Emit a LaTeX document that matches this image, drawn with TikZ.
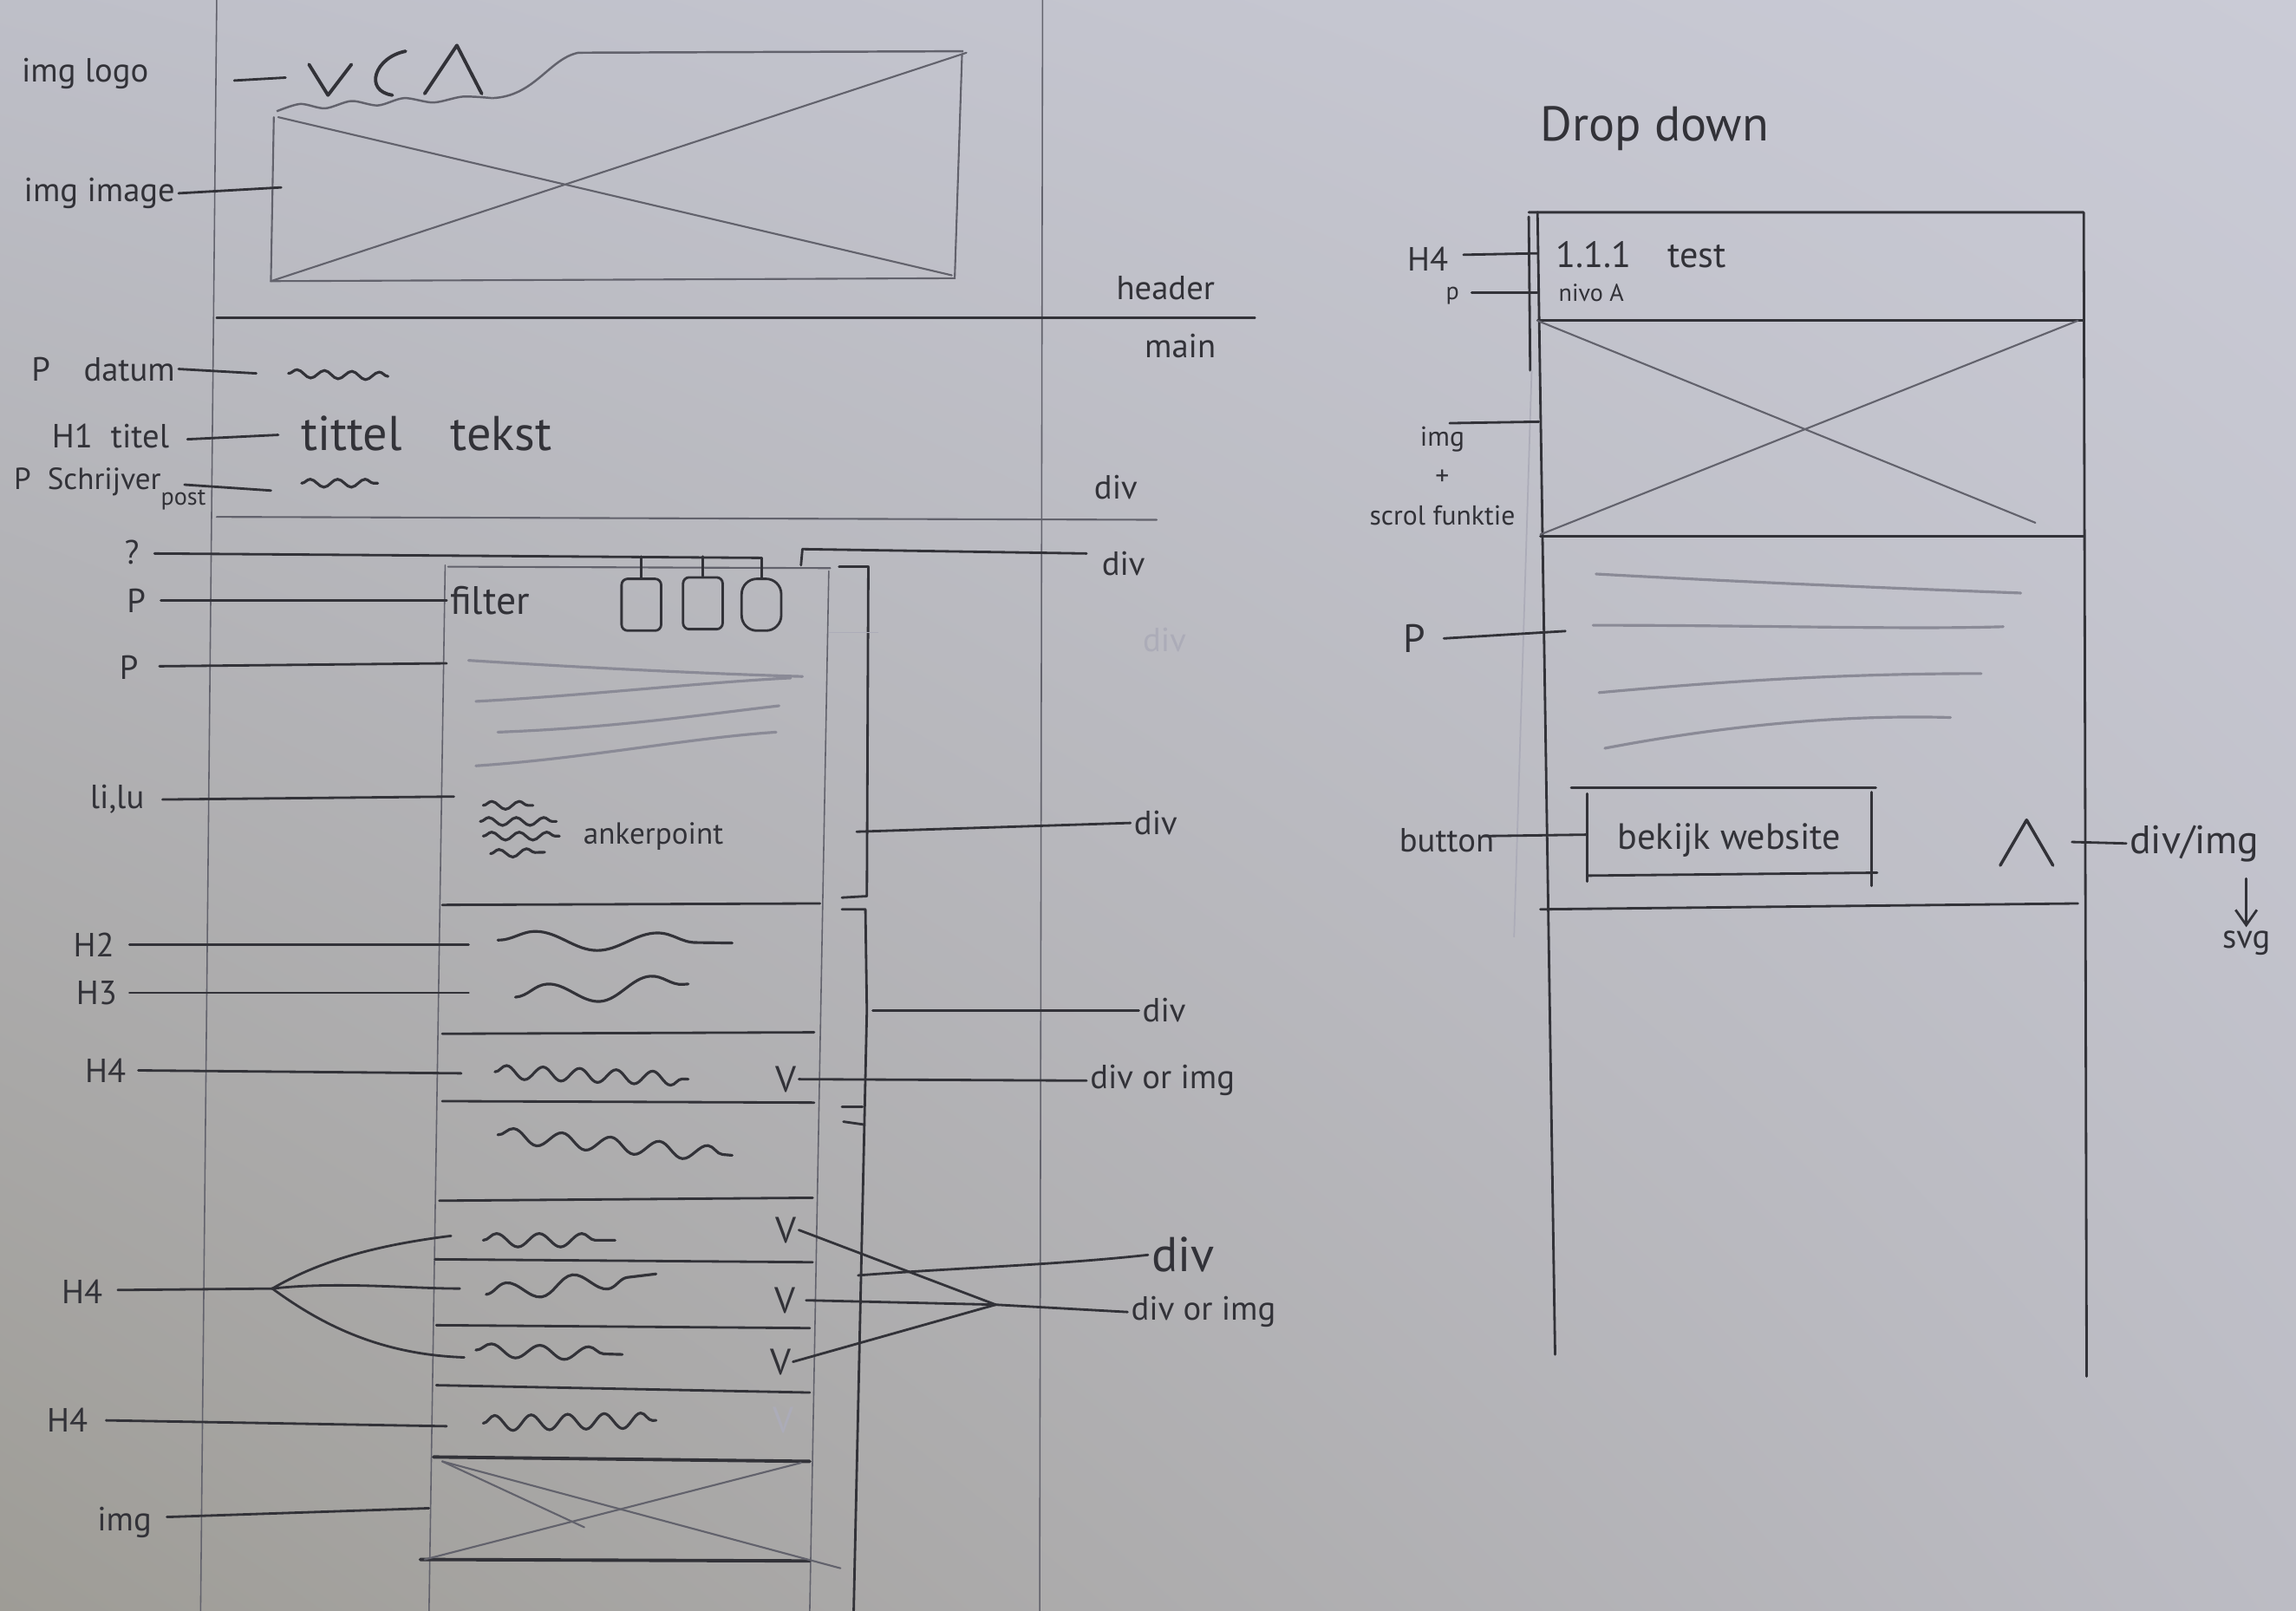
\documentclass[tikz,border=0pt]{standalone}
\usepackage{fontspec}
\setmainfont{PT Sans}
\usetikzlibrary{decorations.pathmorphing,arrows.meta,shadings}
\definecolor{paperUL}{RGB}{190,191,200}
\definecolor{paperUR}{RGB}{202,203,214}
\definecolor{paperLL}{RGB}{158,156,150}
\definecolor{paperLR}{RGB}{188,188,196}
\definecolor{pen}{RGB}{50,50,56}
\definecolor{penlight}{RGB}{98,98,108}
\definecolor{penfaint}{RGB}{138,138,150}
\definecolor{ghost}{RGB}{172,172,184}
\begin{document}
\begin{tikzpicture}[x=0.016888cm,y=-0.016888cm,
  pencil/.style={draw=pen,line width=0.8pt,line cap=round,line join=round},
  heavy/.style={draw=pen,line width=1.1pt,line cap=round,line join=round},
  thinline/.style={draw=penlight,line width=0.45pt,line cap=round},
  textline/.style={draw=penfaint,line width=0.9pt,line cap=round},
  squig/.style={draw=pen,line width=0.9pt,line cap=round,decorate,
    decoration={snake,amplitude=2.2pt,segment length=13pt}},
  smallsquig/.style={squig,decoration={snake,amplitude=1.3pt,segment length=9pt}},
  lbl/.style={text=pen,inner sep=1pt,font=\fontsize{11}{12}\selectfont},
  small/.style={lbl,font=\fontsize{8}{9}\selectfont},
  mid/.style={lbl,font=\fontsize{13}{14}\selectfont},
  big/.style={lbl,font=\fontsize{16}{18}\selectfont},
  chev/.style={lbl,font=\fontsize{12}{12}\selectfont,inner sep=0.5pt},
  filterbox/.style={draw=pen,line width=0.8pt,rounded corners=2pt,minimum width=13,minimum height=17,inner sep=0}
]
% paper
\useasboundingbox (0,0) rectangle (1568,1100);
\shade[upper left=paperUL,upper right=paperUR,lower left=paperLL,lower right=paperLR]
  (0,0) rectangle (1568,1100);

% ---------- page guides ----------
\draw[thinline] (148,0) -- (137,1100);
\draw[thinline] (712,0) -- (710,1100);
\draw[pencil] (148,217) -- (857,217);
\draw[thinline,line width=0.6pt] (148,353) -- (790,355);
\node[lbl] (header) at (796,197) {header};
\node[lbl] (main) at (806,236) {main};
\node[lbl] (divA) at (762,333) {div};

% ---------- header image and logo ----------
\draw[thinline,line width=0.6pt] (187,80) -- (185,192) -- (652,190) -- (657,37);
\draw[thinline,line width=0.6pt] (190,80) -- (650,188);
\draw[thinline,line width=0.6pt] (185,192) -- (660,36);
\draw[pencil,line width=1.1pt] (211,44) -- (224,65) -- (240,44);
\draw[pencil,line width=1.1pt] (277,35) .. controls (256,39) and (248,62) .. (268,65);
\draw[pencil,line width=1.1pt] (290,64) -- (312,31) -- (329,64);
\draw[penlight,line width=0.7pt] plot[smooth] coordinates {(189,76) (205,71) (222,74) (240,69) (258,72) (276,67) (296,70) (316,66) (336,67)};
\draw[penlight,line width=0.7pt] (336,67) .. controls (365,66) and (375,40) .. (395,36) -- (658,35);
\coordinate (logoIn) at (195,53);
\coordinate (imageIn) at (192,128);
\node[lbl,anchor=east] (imglogo) at (104,50) {img logo};
\node[lbl,anchor=east] (imgimage) at (122,132) {img image};
\draw[pencil] (imglogo.east) ++(56,5) coordinate (l1) (l1) -- (logoIn);
\draw[pencil] (imgimage.east) -- (imageIn);

% ---------- title block ----------
\node[lbl,anchor=east] (pdatum) at (122,252) {P\quad datum};
\node[lbl,anchor=east] (h1) at (118,298) {H1\; titel};
\node[lbl,font=\fontsize{10}{11}\selectfont,anchor=east] (pauthor) at (143,334) {P\; Schrijver\raisebox{-5pt}{\fontsize{8}{9}\selectfont post}};
\coordinate (datumIn) at (175,255);
\coordinate (h1In) at (190,297);
\coordinate (authorIn) at (185,335);
\draw[pencil] (pdatum.east) -- (datumIn);
\draw[pencil] (h1.east) ++(10,2) coordinate (h1s) (h1s) -- (h1In);
\draw[pencil] (pauthor.east) ++(-17,-3) coordinate (aus) (aus) -- (authorIn);
\draw[smallsquig] (197,255) -- (265,257);
\node[big,anchor=west] (titletext) at (203,296) {tittel\quad tekst};
\draw[smallsquig] (206,330) -- (258,330);

% ---------- content column ----------
\draw[thinline] (304,386) -- (293,1100);
\draw[thinline] (566,390) -- (553,1100);
\draw[thinline,line width=0.6pt] (306,387) -- (567,388);
% brackets
\draw[pencil] (573,387) -- (593,387) -- (592,612) -- (575,613);
\draw[pencil] (575,621) -- (591,621) -- (592,690) -- (583,1100);
\draw[pencil] (575,756) -- (589,756);
\draw[pencil] (576,766) -- (590,768);
\draw[pencil] (548,375) -- (547,386);
\coordinate (topDivL) at (548,375);
\node[lbl,anchor=west] (divB) at (750,385) {div};
\draw[pencil] (topDivL) -- (742,378);
\node[lbl,text=ghost,anchor=west] (divC) at (778,437) {div};
\draw[draw=ghost,line width=0.5pt] (566,432) -- (600,432);

% filter row
\node[lbl] (qm) at (90,377) {?};
\coordinate (qEnd) at (520,381);
\draw[pencil] (qm.east) ++(8,1) coordinate (qs) (qs) -- (qEnd);
\node[filterbox] (f1) at (438,413) {};
\node[filterbox] (f2) at (480,412) {};
\node[filterbox,rounded corners=5pt] (f3) at (520,413) {};
\draw[pencil] (438,380) -- (f1.north);
\draw[pencil] (480,380) -- (f2.north);
\draw[pencil] (qEnd) -- (f3.north);
\node[mid,anchor=west] (filter) at (305,410) {filter};
\node[lbl] (p1) at (93,410) {P};
\draw[pencil] (p1.east) ++(8,0) coordinate (p1s) (p1s) -- (filter.west);

% paragraph
\node[lbl] (p2) at (88,456) {P};
\coordinate (p2In) at (305,453);
\draw[pencil] (p2.east) ++(12,-1) coordinate (p2s) (p2s) -- (p2In);
\draw[textline] (320,451) .. controls (400,456) and (480,460) .. (548,462);
\draw[textline] (325,479) .. controls (400,475) and (480,466) .. (540,463);
\draw[textline] (340,500) .. controls (420,497) and (480,488) .. (532,482);
\draw[textline] (325,523) .. controls (400,518) and (470,504) .. (530,500);

% anchor list
\node[lbl] (lilu) at (80,546) {li,lu};
\coordinate (liluIn) at (310,544);
\draw[pencil] (lilu.east) ++(10,0) coordinate (lis) (lis) -- (liluIn);
\draw[smallsquig] (330,550) -- (364,550);
\draw[smallsquig] (328,561) -- (380,561);
\draw[smallsquig] (330,571) -- (382,571);
\draw[smallsquig] (335,583) -- (372,582);
\node[lbl,font=\fontsize{10}{11}\selectfont,anchor=west] (anker) at (396,571) {ankerpoint};
\node[lbl,anchor=west] (divD) at (772,562) {div};
\coordinate (divDIn) at (585,568);
\draw[pencil] (divDIn) -- (divD.west);

% section rules
\draw[pencil] (302,618) -- (560,617);
\draw[pencil] (302,706) -- (556,705);
\draw[pencil] (302,752) -- (556,753);
\draw[pencil] (300,820) -- (555,818);
\draw[pencil] (297,860) -- (555,862);
\draw[pencil] (298,905) -- (553,907);
\draw[pencil] (298,946) -- (553,951);

% headings
\node[lbl] (h2) at (64,645) {H2};
\node[lbl] (h3) at (66,678) {H3};
\node[lbl] (h4a) at (72,731) {H4};
\coordinate (h2In) at (320,645);
\coordinate (h3In) at (320,678);
\coordinate (h4aIn) at (315,733);
\draw[pencil] (h2.east) ++(8,0) coordinate (h2s) (h2s) -- (h2In);
\draw[pencil] (h3.east) ++(6,0) coordinate (h3s) (h3s) -- (h3In);
\draw[pencil] (h4a.east) ++(6,0) coordinate (h4s) (h4s) -- (h4aIn);
\draw[squig,decoration={snake,amplitude=3pt,segment length=40pt}] (340,642) -- (500,644);
\draw[squig,decoration={snake,amplitude=3.5pt,segment length=34pt}] (352,681) -- (470,672);
\draw[squig,decoration={snake,amplitude=2.2pt,segment length=12pt}] (338,732) -- (470,737);
\draw[squig,decoration={snake,amplitude=2.5pt,segment length=16pt}] (340,775) -- (500,789);
\node[lbl] (div2) at (795,690) {div};
\coordinate (div2In) at (596,690);
\draw[pencil] (div2In) -- (div2.west);

% collapsible items
\node[chev] (v1) at (537,737) {V};
\node[chev] (v2) at (537,840) {V};
\node[chev] (v3) at (536,888) {V};
\node[chev] (v4) at (533,930) {V};
\node[chev,text=ghost] (v5) at (535,970) {V};
\node[lbl,anchor=west] (dorimg1) at (742,738) {div or img};
\draw[pencil] (v1.east) -- (dorimg1.west);
\draw[squig,decoration={snake,amplitude=2.2pt,segment length=14pt}] (330,847) -- (420,847);
\draw[squig,decoration={snake,amplitude=3pt,segment length=22pt}] (332,884) -- (448,870);
\draw[squig,decoration={snake,amplitude=2.2pt,segment length=16pt}] (325,922) -- (425,925);
\draw[squig,decoration={snake,amplitude=2.5pt,segment length=12pt}] (330,972) -- (448,970);

\node[lbl] (h4b) at (56,882) {H4};
\coordinate (h4fork) at (186,880);
\coordinate (h4t1) at (308,844);
\coordinate (h4t2) at (314,880);
\coordinate (h4t3) at (317,927);
\draw[pencil] (h4b.east) ++(8,-1) coordinate (h4bs) (h4bs) -- (h4fork);
\draw[pencil] (h4fork) .. controls (220,860) and (260,850) .. (h4t1);
\draw[pencil] (h4fork) .. controls (230,875) and (280,880) .. (h4t2);
\draw[pencil] (h4fork) .. controls (220,905) and (260,925) .. (h4t3);

\coordinate (rfork) at (680,891);
\node[lbl,anchor=west] (dorimg2) at (770,896) {div or img};
\draw[pencil] (v2.east) -- (rfork);
\draw[pencil] (v3.east) ++(6,0) coordinate (v3s) (v3s) -- (rfork);
\draw[pencil] (v4.east) -- (rfork);
\draw[pencil] (rfork) -- (dorimg2.west);
\node[big,anchor=west] (divbig) at (784,857) {div};
\coordinate (divbigIn) at (586,871);
\draw[pencil] (divbigIn) .. controls (650,866) and (720,864) .. (divbig.west);

\node[lbl] (h4c) at (46,970) {H4};
\coordinate (h4cIn) at (305,974);
\draw[pencil] (h4c.east) ++(10,0) coordinate (h4cs) (h4cs) -- (h4cIn);

% bottom image
\draw[heavy] (296,995) -- (553,998);
\draw[heavy] (287,1065) -- (553,1066);
\draw[thinline,line width=0.6pt] (302,998) -- (574,1071);
\draw[thinline,line width=0.6pt] (290,1065) -- (547,999);
\draw[thinline,line width=0.6pt] (302,998) -- (399,1043);
\node[lbl] (imgb) at (85,1040) {img};
\coordinate (imgbIn) at (293,1030);
\draw[pencil] (imgb.east) ++(8,-4) coordinate (imgbs) (imgbs) -- (imgbIn);

% ---------- drop down panel ----------
\node[big] (dropdown) at (1130,88) {Drop down};
\draw[pencil] (1044,145) -- (1423,145) -- (1425,940);
\draw[pencil] (1050,145) -- (1062,925);
\draw[pencil] (1044,148) -- (1045,253);
\draw[draw=ghost,line width=0.5pt] (1046,253) -- (1034,640);
\draw[pencil] (1050,219) -- (1423,219);
\draw[pencil] (1052,366) -- (1423,366);
\draw[pencil] (1052,621) -- (1419,617);
\draw[thinline,line width=0.6pt] (1050,219) -- (1390,357);
\draw[thinline,line width=0.6pt] (1052,365) -- (1419,219);

\node[lbl,font=\fontsize{12}{13}\selectfont,anchor=west] (test) at (1060,174) {1.1.1\quad test};
\node[small,anchor=west] (nivo) at (1062,200) {nivo A};
\node[lbl] (h4d) at (975,177) {H4};
\node[small] (pd) at (992,202) {p};
\coordinate (h4dIn) at (1050,173);
\coordinate (pdIn) at (1050,200);
\draw[pencil] (h4d.east) ++(8,-3) coordinate (h4ds) (h4ds) -- (h4dIn);
\draw[pencil] (pd.east) ++(6,-2) coordinate (pds) (pds) -- (pdIn);

\node[lbl,font=\fontsize{9}{11}\selectfont,align=center] (imgscroll) at (985,325) {img\\[2pt]+\\[2pt]scrol funktie};
\coordinate (imgscrollIn) at (1051,288);
\draw[pencil] (990,289) coordinate (iss) -- (imgscrollIn);

\draw[textline] (1090,392) .. controls (1200,398) and (1300,402) .. (1380,405);
\draw[textline] (1088,427) .. controls (1200,427) and (1300,430) .. (1368,428);
\draw[textline] (1092,473) .. controls (1180,465) and (1260,460) .. (1353,460);
\draw[textline] (1096,511) .. controls (1180,495) and (1260,488) .. (1332,490);
\node[mid] (pe) at (966,436) {P};
\coordinate (peIn) at (1069,431);
\draw[pencil] (pe.east) ++(10,0) coordinate (pes) (pes) -- (peIn);

% button
\draw[pencil] (1073,538) -- (1281,538);
\draw[pencil] (1084,542) -- (1084,602);
\draw[pencil] (1278,541) -- (1278,605);
\draw[pencil] (1084,598) -- (1282,596);
\node[lbl,font=\fontsize{12}{13}\selectfont] (bekijk) at (1181,574) {bekijk website};
\node[lbl] (button) at (988,574) {button};
\coordinate (buttonIn) at (1084,570);
\draw[pencil] (button.east) ++(-10,-3) coordinate (bs) (bs) -- (buttonIn);

% toggle arrow
\draw[pencil,line width=1pt] (1366,591) -- (1384,560) -- (1402,591);
\coordinate (caret) at (1415,575);
\node[mid,anchor=west] (divimg) at (1452,576) {div/img};
\draw[pencil] (caret) -- (divimg.west);
\node[lbl] (svg) at (1534,644) {svg};
\draw[pencil,-{Straight Barb[length=5pt,width=7pt]}] (1534,600) -- (svg.north);

\end{tikzpicture}
\end{document}
